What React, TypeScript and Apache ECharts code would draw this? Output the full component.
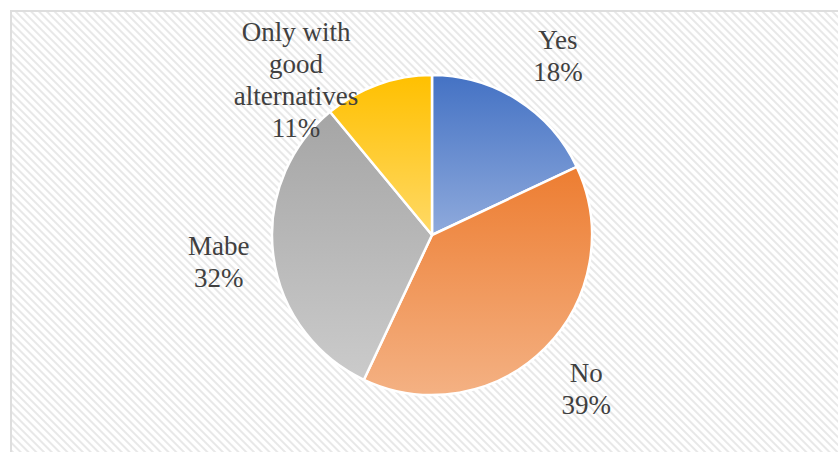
import React, { useEffect, useRef } from 'react';
import * as echarts from 'echarts';

const categories = ['Yes', 'No', 'Mabe', 'Only with\ngood\nalternatives'];
const values = [18, 39, 32, 11];
const gradientTop = ['#4472C4', '#ED7D31', '#A5A5A5', '#FFC000'];
const gradientBottom = ['#8FAADC', '#F4B183', '#CBCBCB', '#FFD966'];

const CX = 432;
const CY = 235;
const RADIUS = 160;
const LABEL_R = [219, 218, 215, 206];
const LABEL_ANGLE_SHIFT = [2.7, 0, 0, -21.5];
const LINE_H = 32;
const FONT = 'Times New Roman';

export default function App() {
  const ref = useRef<HTMLDivElement>(null);

  useEffect(() => {
    if (!ref.current) return;
    const chart = echarts.init(ref.current, undefined, { renderer: 'svg' });
    const total = values.reduce((a, b) => a + b, 0);
    const mids: number[] = [];
    let cum = 0;
    values.forEach((v) => {
      mids.push(((cum + v / 2) / total) * 360);
      cum += v;
    });

    const texts: any[] = [];
    categories.forEach((name, i) => {
      const a = ((mids[i] + LABEL_ANGLE_SHIFT[i]) * Math.PI) / 180;
      const x = CX + LABEL_R[i] * Math.sin(a);
      const y = CY - LABEL_R[i] * Math.cos(a);
      const lines = [...name.split('\n'), `${Math.round((values[i] / total) * 100)}%`];
      lines.forEach((line, k) => {
        texts.push({
          type: 'text',
          x,
          y: y + (k - (lines.length - 1) / 2) * LINE_H,
          z: 100,
          silent: true,
          style: {
            text: line,
            fontFamily: FONT,
            fontSize: 27,
            fill: '#404040',
            align: 'center',
            verticalAlign: 'middle',
          },
        });
      });
    });

    chart.setOption({
      animation: false,
      backgroundColor: 'transparent',
      graphic: texts,
      series: [
        {
          type: 'pie',
          center: [CX, CY],
          radius: RADIUS,
          startAngle: 90,
          clockwise: true,
          z: 2,
          avoidLabelOverlap: false,
          itemStyle: { borderColor: '#ffffff', borderWidth: 2.5 },
          label: { show: false },
          labelLine: { show: false },
          emphasis: { disabled: true },
          data: categories.map((name, i) => ({
            name,
            value: values[i],
            itemStyle: {
              color: new echarts.graphic.LinearGradient(0, 0, 0, 1, [
                { offset: 0, color: gradientTop[i] },
                { offset: 1, color: gradientBottom[i] },
              ]),
            },
          })),
        },
      ],
    });
    return () => chart.dispose();
  }, []);

  return (
    <div
      style={{
        position: 'fixed',
        left: 0,
        top: 0,
        width: 838,
        height: 452,
        background: '#ffffff',
        overflow: 'hidden',
        fontFamily: '"Times New Roman", "Liberation Serif", serif',
      }}
    >
      <div
        style={{
          position: 'absolute',
          left: 10,
          top: 10,
          width: 860,
          height: 480,
          border: '2px solid #dedede',
          boxSizing: 'border-box',
          background:
            'repeating-linear-gradient(45deg, #ffffff 0px, #ffffff 2.5px, #e8e8e8 3.5px, #e8e8e8 4.5px, #ffffff 5.5px)',
        }}
      />
      <div ref={ref} style={{ position: 'absolute', left: 0, top: 0, width: 838, height: 452 }} />
    </div>
  );
}
